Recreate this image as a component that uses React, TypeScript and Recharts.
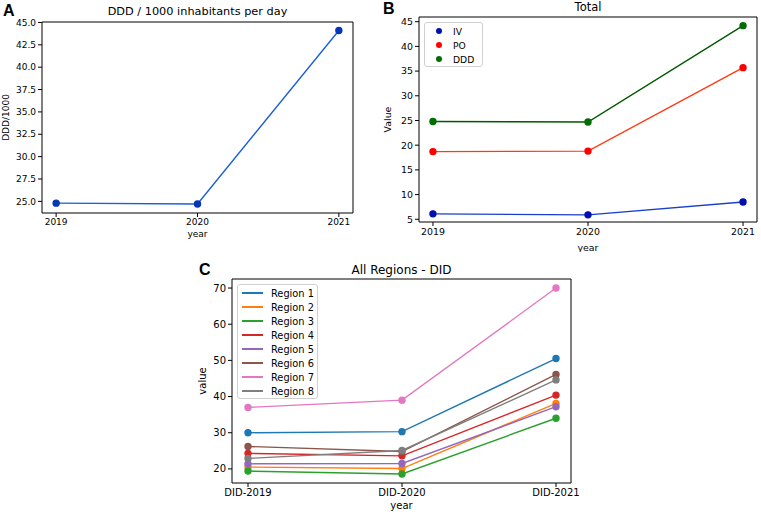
import React from "react";
import { LineChart, Line, XAxis, YAxis, Legend, Label } from "recharts";

const FONT = "DejaVu Sans, Verdana, sans-serif";

// Panel A
const yearsA = [2019, 2020, 2021];
const dddPer1000 = [24.8, 24.7, 44.1];
const ticksA = [25, 27.5, 30, 32.5, 35, 37.5, 40, 42.5, 45];

// Panel B
const yearsB = [2019, 2020, 2021];
const ivValues = [6.1, 5.9, 8.5];
const poValues = [18.7, 18.8, 35.7];
const dddValues = [24.8, 24.7, 44.2];
const ticksB = [5, 10, 15, 20, 25, 30, 35, 40, 45];

// Panel C
const categoriesC = ["DID-2019", "DID-2020", "DID-2021"];
const regionNames = ["Region 1", "Region 2", "Region 3", "Region 4", "Region 5", "Region 6", "Region 7", "Region 8"];
const region1 = [30.0, 30.3, 50.5];
const region2 = [20.5, 20.1, 38.1];
const region3 = [19.4, 18.6, 34.0];
const region4 = [24.3, 23.6, 40.4];
const region5 = [21.4, 21.5, 37.2];
const region6 = [26.2, 24.8, 46.1];
const region7 = [37.0, 39.0, 70.0];
const region8 = [22.9, 25.1, 44.6];
const regionValues = [region1, region2, region3, region4, region5, region6, region7, region8];
const regionColors = ["#1f77b4", "#ff7f0e", "#2ca02c", "#d62728", "#9467bd", "#8c564b", "#e377c2", "#7f7f7f"];
const ticksC = [20, 30, 40, 50, 60, 70];

const dataA = yearsA.map((y, i) => ({ year: y, ddd: dddPer1000[i] }));
const dataB = yearsB.map((y, i) => ({ year: y, IV: ivValues[i], PO: poValues[i], DDD: dddValues[i] }));
const dataC = categoriesC.map((c, i) => {
  const row: any = { cat: c };
  regionNames.forEach((n, k) => (row[n] = regionValues[k][i]));
  return row;
});

const yLabel = (text: string, dx: number, size: number) => (props: any) => {
  const vb = props.viewBox;
  const x = vb.x + dx;
  const y = vb.y + vb.height / 2;
  return (
    <text x={x} y={y} transform={`rotate(-90 ${x} ${y})`} textAnchor="middle" dominantBaseline="central" fontSize={size} fill="#000" fontFamily={FONT}>
      {text}
    </text>
  );
};

const xLabel = (text: string, dy: number, size: number) => (props: any) => {
  const vb = props.viewBox;
  return (
    <text x={vb.x + vb.width / 2} y={vb.y + dy} textAnchor="middle" dominantBaseline="central" fontSize={size} fill="#000" fontFamily={FONT}>
      {text}
    </text>
  );
};

const frameAxes = (w: string) => [
  <XAxis key="xt" xAxisId={"top" + w} type="number" domain={[0, 1]} orientation="top" height={1} tick={false} tickLine={false} axisLine={{ stroke: "#000" }} />,
  <YAxis key="yr" yAxisId={"right" + w} type="number" domain={[0, 1]} orientation="right" width={1} tick={false} tickLine={false} axisLine={{ stroke: "#000" }} />,
];

const legendB = (props: any) => {
  const payload = props.payload || [];
  return (
    <div style={{ border: "1px solid #d0d0d0", borderRadius: 3, background: "rgba(255,255,255,0.85)", width: 59, height: 45, boxSizing: "border-box", paddingTop: 1, fontFamily: FONT, fontSize: 9.2 }}>
      {payload.map((p: any) => (
        <div key={p.value} style={{ display: "flex", alignItems: "center", height: 14 }}>
          <span style={{ width: 6, height: 6, borderRadius: 3, background: p.payload.fill, marginLeft: 11, marginRight: 11 }} />
          <span>{p.value}</span>
        </div>
      ))}
    </div>
  );
};

const legendC = (props: any) => {
  const payload = props.payload || [];
  return (
    <div style={{ border: "1px solid #d0d0d0", borderRadius: 3, background: "rgba(255,255,255,0.85)", width: 81, height: 115, boxSizing: "border-box", paddingTop: 1, fontFamily: FONT, fontSize: 9.8 }}>
      {payload.map((p: any) => (
        <div key={p.value} style={{ display: "flex", alignItems: "center", height: 14 }}>
          <span style={{ width: 21, height: 1.5, background: p.color, marginLeft: 4, marginRight: 8 }} />
          <span>{p.value}</span>
        </div>
      ))}
    </div>
  );
};

const tickStyle = (size: number) => ({ fontSize: size, fill: "#000", fontFamily: FONT });

export default function App() {
  return (
    <div style={{ position: "absolute", left: 0, top: 0, width: 761, height: 514, background: "#fff", fontFamily: FONT, overflow: "hidden" }}>
      {/* Panel A */}
      <div style={{ position: "absolute", left: 0, top: 0 }}>
        <LineChart width={380} height={250} data={dataA} margin={{ top: 21, right: 26, bottom: 0, left: 0 }}>
          <XAxis dataKey="year" type="number" domain={[2018.9, 2021.1]} ticks={yearsA} tick={tickStyle(9)} tickSize={4} tickLine={{ stroke: "#000" }} axisLine={{ stroke: "#000" }} height={37} allowDataOverflow>
            <Label content={xLabel("year", 21, 9)} />
          </XAxis>
          <YAxis type="number" domain={[23.7, 45.05]} ticks={ticksA} tickFormatter={(v: number) => v.toFixed(1)} tick={tickStyle(9)} tickSize={4} tickLine={{ stroke: "#000" }} axisLine={{ stroke: "#000" }} width={42} allowDataOverflow>
            <Label content={yLabel("DDD/1000", 6, 9)} />
          </YAxis>
          {frameAxes("A")}
          <Line dataKey="ddd" stroke="#1a5fd6" strokeWidth={1.4} dot={{ r: 3, fill: "#0536b8", stroke: "#0536b8" }} isAnimationActive={false} />
        </LineChart>
        <div style={{ position: "absolute", left: 42, width: 311, top: 4, textAlign: "center", fontSize: 11.3, lineHeight: "16px" }}>DDD / 1000 inhabitants per day</div>
        <div style={{ position: "absolute", left: 3, top: 2, fontSize: 16, fontWeight: "bold", fontFamily: "Liberation Sans, Arial, sans-serif", lineHeight: "18px" }}>A</div>
      </div>

      {/* Panel B */}
      <div style={{ position: "absolute", left: 380, top: 0 }}>
        <LineChart width={381} height={252} data={dataB} margin={{ top: 16, right: 3, bottom: 0, left: 0 }}>
          <XAxis dataKey="year" type="number" domain={[2018.91, 2021.09]} ticks={yearsB} tick={tickStyle(9.4)} tickSize={4} tickLine={{ stroke: "#000" }} axisLine={{ stroke: "#000" }} height={30} allowDataOverflow>
            <Label content={xLabel("year", 25, 9.4)} />
          </XAxis>
          <YAxis type="number" domain={[4.45, 45.95]} ticks={ticksB} tick={tickStyle(9.4)} tickSize={4} tickLine={{ stroke: "#000" }} axisLine={{ stroke: "#000" }} width={39} allowDataOverflow>
            <Label content={yLabel("Value", 7, 9.4)} />
          </YAxis>
          {frameAxes("B")}
          <Legend content={legendB} itemSorter={null as any} layout="horizontal" verticalAlign="middle" align="center" wrapperStyle={{ position: "absolute", left: 44, top: 22, width: 59, height: 45 }} />
          <Line dataKey="IV" name="IV" stroke="#1a3fd0" fill="#0010b0" strokeWidth={1.4} dot={{ r: 3, fill: "#0010b0", stroke: "#0010b0" }} isAnimationActive={false} />
          <Line dataKey="PO" name="PO" stroke="#ff3a10" fill="#ff0000" strokeWidth={1.4} dot={{ r: 3, fill: "#ff0000", stroke: "#ff0000" }} isAnimationActive={false} />
          <Line dataKey="DDD" name="DDD" stroke="#005800" fill="#006e00" strokeWidth={1.4} dot={{ r: 3, fill: "#006e00", stroke: "#006e00" }} isAnimationActive={false} />
        </LineChart>
        <div style={{ position: "absolute", left: 39, width: 338, top: -1, textAlign: "center", fontSize: 11.5, lineHeight: "16px" }}>Total</div>
        <div style={{ position: "absolute", left: 3, top: 0, fontSize: 16, fontWeight: "bold", fontFamily: "Liberation Sans, Arial, sans-serif", lineHeight: "18px" }}>B</div>
      </div>

      {/* Panel C */}
      <div style={{ position: "absolute", left: 190, top: 255 }}>
        <LineChart width={400} height={259} data={dataC} margin={{ top: 23, right: 18, bottom: 0, left: 0 }}>
          <XAxis dataKey="cat" type="category" padding={{ left: 16, right: 15 }} tick={tickStyle(10)} tickSize={4} tickLine={{ stroke: "#000" }} axisLine={{ stroke: "#000" }} height={31} interval={0}>
            <Label content={xLabel("year", 22, 10)} />
          </XAxis>
          <YAxis type="number" domain={[16.1, 72.5]} ticks={ticksC} tick={tickStyle(10)} tickSize={4} tickLine={{ stroke: "#000" }} axisLine={{ stroke: "#000" }} width={42} allowDataOverflow>
            <Label content={yLabel("value", 12, 10)} />
          </YAxis>
          {frameAxes("C")}
          <Legend content={legendC} itemSorter={null as any} layout="horizontal" verticalAlign="middle" align="center" wrapperStyle={{ position: "absolute", left: 47, top: 29, width: 81, height: 115 }} />
          {regionNames.map((n, k) => (
            <Line key={n} dataKey={n} name={n} stroke={regionColors[k]} strokeWidth={1.4} dot={{ r: 3, fill: regionColors[k], stroke: regionColors[k] }} isAnimationActive={false} />
          ))}
        </LineChart>
        <div style={{ position: "absolute", left: 42, width: 339, top: 7, textAlign: "center", fontSize: 12, lineHeight: "16px" }}>All Regions - DID</div>
        <div style={{ position: "absolute", left: 9, top: 6, fontSize: 16, fontWeight: "bold", fontFamily: "Liberation Sans, Arial, sans-serif", lineHeight: "18px" }}>C</div>
      </div>
    </div>
  );
}
